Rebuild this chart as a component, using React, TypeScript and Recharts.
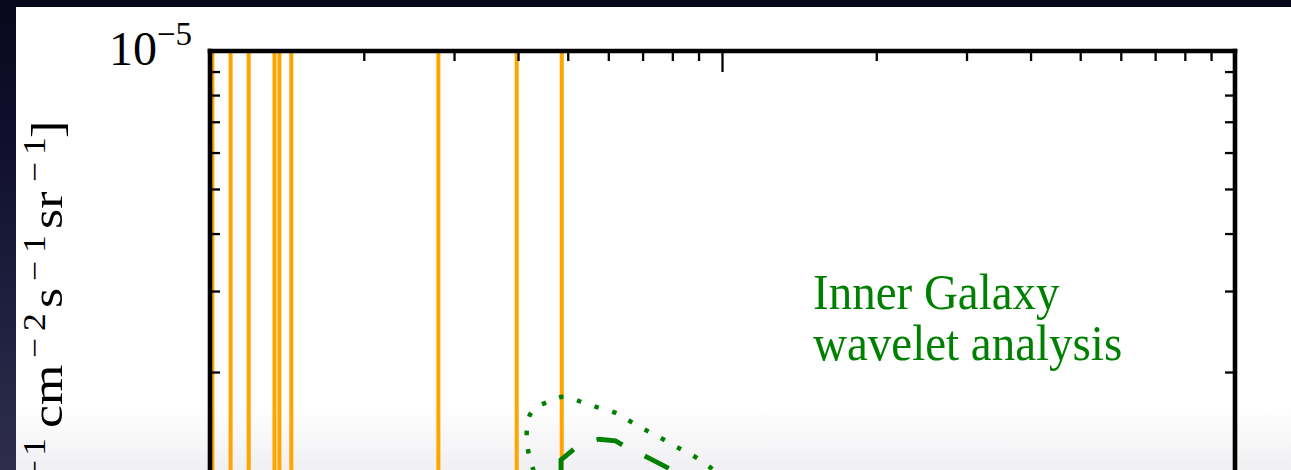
import React from 'react';
import { ComposedChart, Line, XAxis, YAxis } from 'recharts';

const FONT = '"Liberation Serif", "DejaVu Serif", serif';
const W = 1291;
const H = 470;
const CHART_H = 1000;

// Axis ranges (log-log)
const E_MIN = 1;
const E_MAX = 100;
const FLUX_MIN = 1e-7;
const FLUX_MAX = 1e-5;

// Log-axis tick positions: mantissas 1..9 in every decade
const MANTISSAS = [1, 2, 3, 4, 5, 6, 7, 8, 9];
const E_DECADES = [1, 10];
const FLUX_DECADES = [1e-7, 1e-6];
const E_TICKS = [...E_DECADES.flatMap((d) => MANTISSAS.map((m) => m * d)), E_MAX];
const FLUX_TICKS = [...FLUX_DECADES.flatMap((d) => MANTISSAS.map((m) => m * d)), FLUX_MAX];

// Vertical (orange) bars, energies in GeV
const ORANGE_E = [1.011, 1.097, 1.19, 1.336, 1.366, 1.441, 2.79, 3.967, 4.857];

// Dotted envelope
const ENV_E = [4.283, 4.18, 4.15, 4.245, 4.539, 4.884, 5.288, 5.708, 6.17, 6.622, 7.124, 7.655, 8.227, 8.839, 9.454, 9.625];
const ENV_FLUX = [1.22e-6, 1.345e-6, 1.492e-6, 1.644e-6, 1.723e-6, 1.772e-6, 1.728e-6, 1.68e-6, 1.636e-6, 1.564e-6, 1.495e-6, 1.432e-6, 1.369e-6, 1.312e-6, 1.245e-6, 1.216e-6];

// Dashed spectrum
const FIT_E = [4.84, 4.84, 5.155, 5.466, 5.741, 6.183, 6.424, 7.22, 7.97, 8.115];
const FIT_FLUX = [1.225e-6, 1.291e-6, 1.369e-6, 1.413e-6, 1.432e-6, 1.42e-6, 1.385e-6, 1.3e-6, 1.228e-6, 1.21e-6];

const envData = ENV_E.map((x, i) => ({ x, y: ENV_FLUX[i] }));
const fitData = FIT_E.map((x, i) => ({ x, y: FIT_FLUX[i] }));

const GREEN = '#008000';
const ORANGE = '#FFA500';
const MAJOR = 21;
const MINOR = 10;
const TICK_W = 2.3;

// y-axis title, laid out piece by piece (start = lower end of each piece on screen)
const Y_TITLE_STRETCH = 1.15;
const Y_TITLE_PIECES = [
  { t: '1', start: 456, sup: true },
  { t: '\u2212', start: 480, sup: true },
  { t: 'cm', start: 428, sup: false },
  { t: '\u2212', start: 358, sup: true },
  { t: '2', start: 331, sup: true },
  { t: 's', start: 308, sup: false },
  { t: '\u2212', start: 281, sup: true },
  { t: '1', start: 253, sup: true },
  { t: 'sr', start: 229, sup: false },
  { t: '\u2212', start: 182, sup: true },
  { t: '1', start: 155, sup: true },
  { t: ']', start: 138, sup: false },
];
const Y_TITLE_HEAD = 'dN/dE [GeV';

const isDecade = (v: number) => Math.abs(Math.log10(v) - Math.round(Math.log10(v))) < 1e-6;

const frame = { stroke: '#000', strokeWidth: 4.6, strokeLinecap: 'square' as const };

function TopTick(props: any) {
  const { x, y, payload } = props;
  const len = isDecade(payload.value) ? MAJOR : MINOR;
  return <line x1={x} x2={x} y1={y} y2={y + len} stroke="#000" strokeWidth={TICK_W} />;
}

function LeftTick(props: any) {
  const { x, y, payload } = props;
  const major = isDecade(payload.value);
  const len = major ? MAJOR : MINOR;
  const exp = Math.round(Math.log10(payload.value));
  return (
    <g>
      <line x1={x} x2={x + len} y1={y} y2={y} stroke="#000" strokeWidth={TICK_W} />
      {major && (
        <text x={x - 18} y={y + 13.5} textAnchor="end" fontFamily={FONT} fill="#000">
          <tspan fontSize={48}>10</tspan>
          <tspan fontSize={33} dy={-19.5}>{'\u2212' + Math.abs(exp)}</tspan>
        </text>
      )}
    </g>
  );
}

function RightTick(props: any) {
  const { x, y, payload } = props;
  const len = isDecade(payload.value) ? MAJOR : MINOR;
  return <line x1={x} x2={x - len} y1={y} y2={y} stroke="#000" strokeWidth={TICK_W} />;
}

export default function App() {
  const titleTransform = `translate(62,0) rotate(-90) scale(${Y_TITLE_STRETCH},1)`;
  return (
    <div
      style={{
        position: 'fixed',
        left: 0,
        top: 0,
        width: W,
        height: H,
        overflow: 'hidden',
        background: 'linear-gradient(to bottom, #08081c 0%, #10102e 30%, #202040 70%, #2e2e4c 100%)',
      }}
    >
      <div
        style={{
          position: 'absolute',
          left: 16,
          top: 7,
          right: 0,
          bottom: 0,
          background: 'linear-gradient(to bottom, #ffffff 0%, #ffffff 86%, #f0f0f3 100%)',
        }}
      />
      <div style={{ position: 'absolute', left: 0, top: 0 }}>
        <ComposedChart width={W} height={CHART_H} margin={{ top: 51, right: 56, bottom: 29, left: 210 }}>
          <XAxis
            xAxisId="top"
            orientation="top"
            mirror
            type="number"
            scale="log"
            dataKey="x"
            domain={[E_MIN, E_MAX]}
            allowDataOverflow
            ticks={E_TICKS}
            interval={0}
            height={1}
            tickSize={0}
            tickMargin={0}
            tickLine={false}
            axisLine={frame}
            tick={(p: any) => <TopTick {...p} />}
          />
          <YAxis
            yAxisId="left"
            orientation="left"
            mirror
            type="number"
            scale="log"
            domain={[FLUX_MIN, FLUX_MAX]}
            allowDataOverflow
            ticks={FLUX_TICKS}
            interval={0}
            width={1}
            tickSize={0}
            tickMargin={0}
            tickLine={false}
            axisLine={frame}
            tick={(p: any) => <LeftTick {...p} />}
          />
          <YAxis
            yAxisId="right"
            orientation="right"
            mirror
            type="number"
            scale="log"
            domain={[FLUX_MIN, FLUX_MAX]}
            allowDataOverflow
            ticks={FLUX_TICKS}
            interval={0}
            width={1}
            tickSize={0}
            tickMargin={0}
            tickLine={false}
            axisLine={frame}
            tick={(p: any) => <RightTick {...p} />}
          />
          {ORANGE_E.map((e, i) => (
            <Line
              key={'o' + i}
              xAxisId="top"
              yAxisId="left"
              data={[
                { x: e, y: FLUX_MIN },
                { x: e, y: FLUX_MAX },
              ]}
              dataKey="y"
              type="linear"
              stroke={ORANGE}
              strokeWidth={4}
              dot={false}
              activeDot={false}
              isAnimationActive={false}
            />
          ))}
          <Line
            xAxisId="top"
            yAxisId="left"
            data={envData}
            dataKey="y"
            type="natural"
            stroke={GREEN}
            strokeWidth={4.5}
            strokeDasharray="4.5 14"
            dot={false}
            activeDot={false}
            isAnimationActive={false}
          />
          <Line
            xAxisId="top"
            yAxisId="left"
            data={fitData}
            dataKey="y"
            type="linear"
            stroke={GREEN}
            strokeWidth={4.8}
            strokeDasharray="27 25"
            dot={false}
            activeDot={false}
            isAnimationActive={false}
          />
        </ComposedChart>
      </div>
      <svg width={W} height={H} style={{ position: 'absolute', left: 0, top: 0, pointerEvents: 'none' }}>
        <g fontFamily={FONT} fill="#000">
          <text transform={titleTransform} x={-482 / Y_TITLE_STRETCH} y={0} fontSize={45} textAnchor="end">
            {Y_TITLE_HEAD}
          </text>
          {Y_TITLE_PIECES.map((p, i) => (
            <text
              key={i}
              transform={titleTransform}
              x={-p.start / Y_TITLE_STRETCH}
              y={p.sup ? -17 : 0}
              fontSize={p.sup ? 31 : 45}
            >
              {p.t}
            </text>
          ))}
        </g>
        <text transform="translate(813,309) scale(1,1.1)" fontFamily={FONT} fontSize={47} fill={GREEN}>
          Inner Galaxy
        </text>
        <text transform="translate(813,360) scale(1,1.1)" fontFamily={FONT} fontSize={47} fill={GREEN}>
          wavelet analysis
        </text>
      </svg>
    </div>
  );
}
